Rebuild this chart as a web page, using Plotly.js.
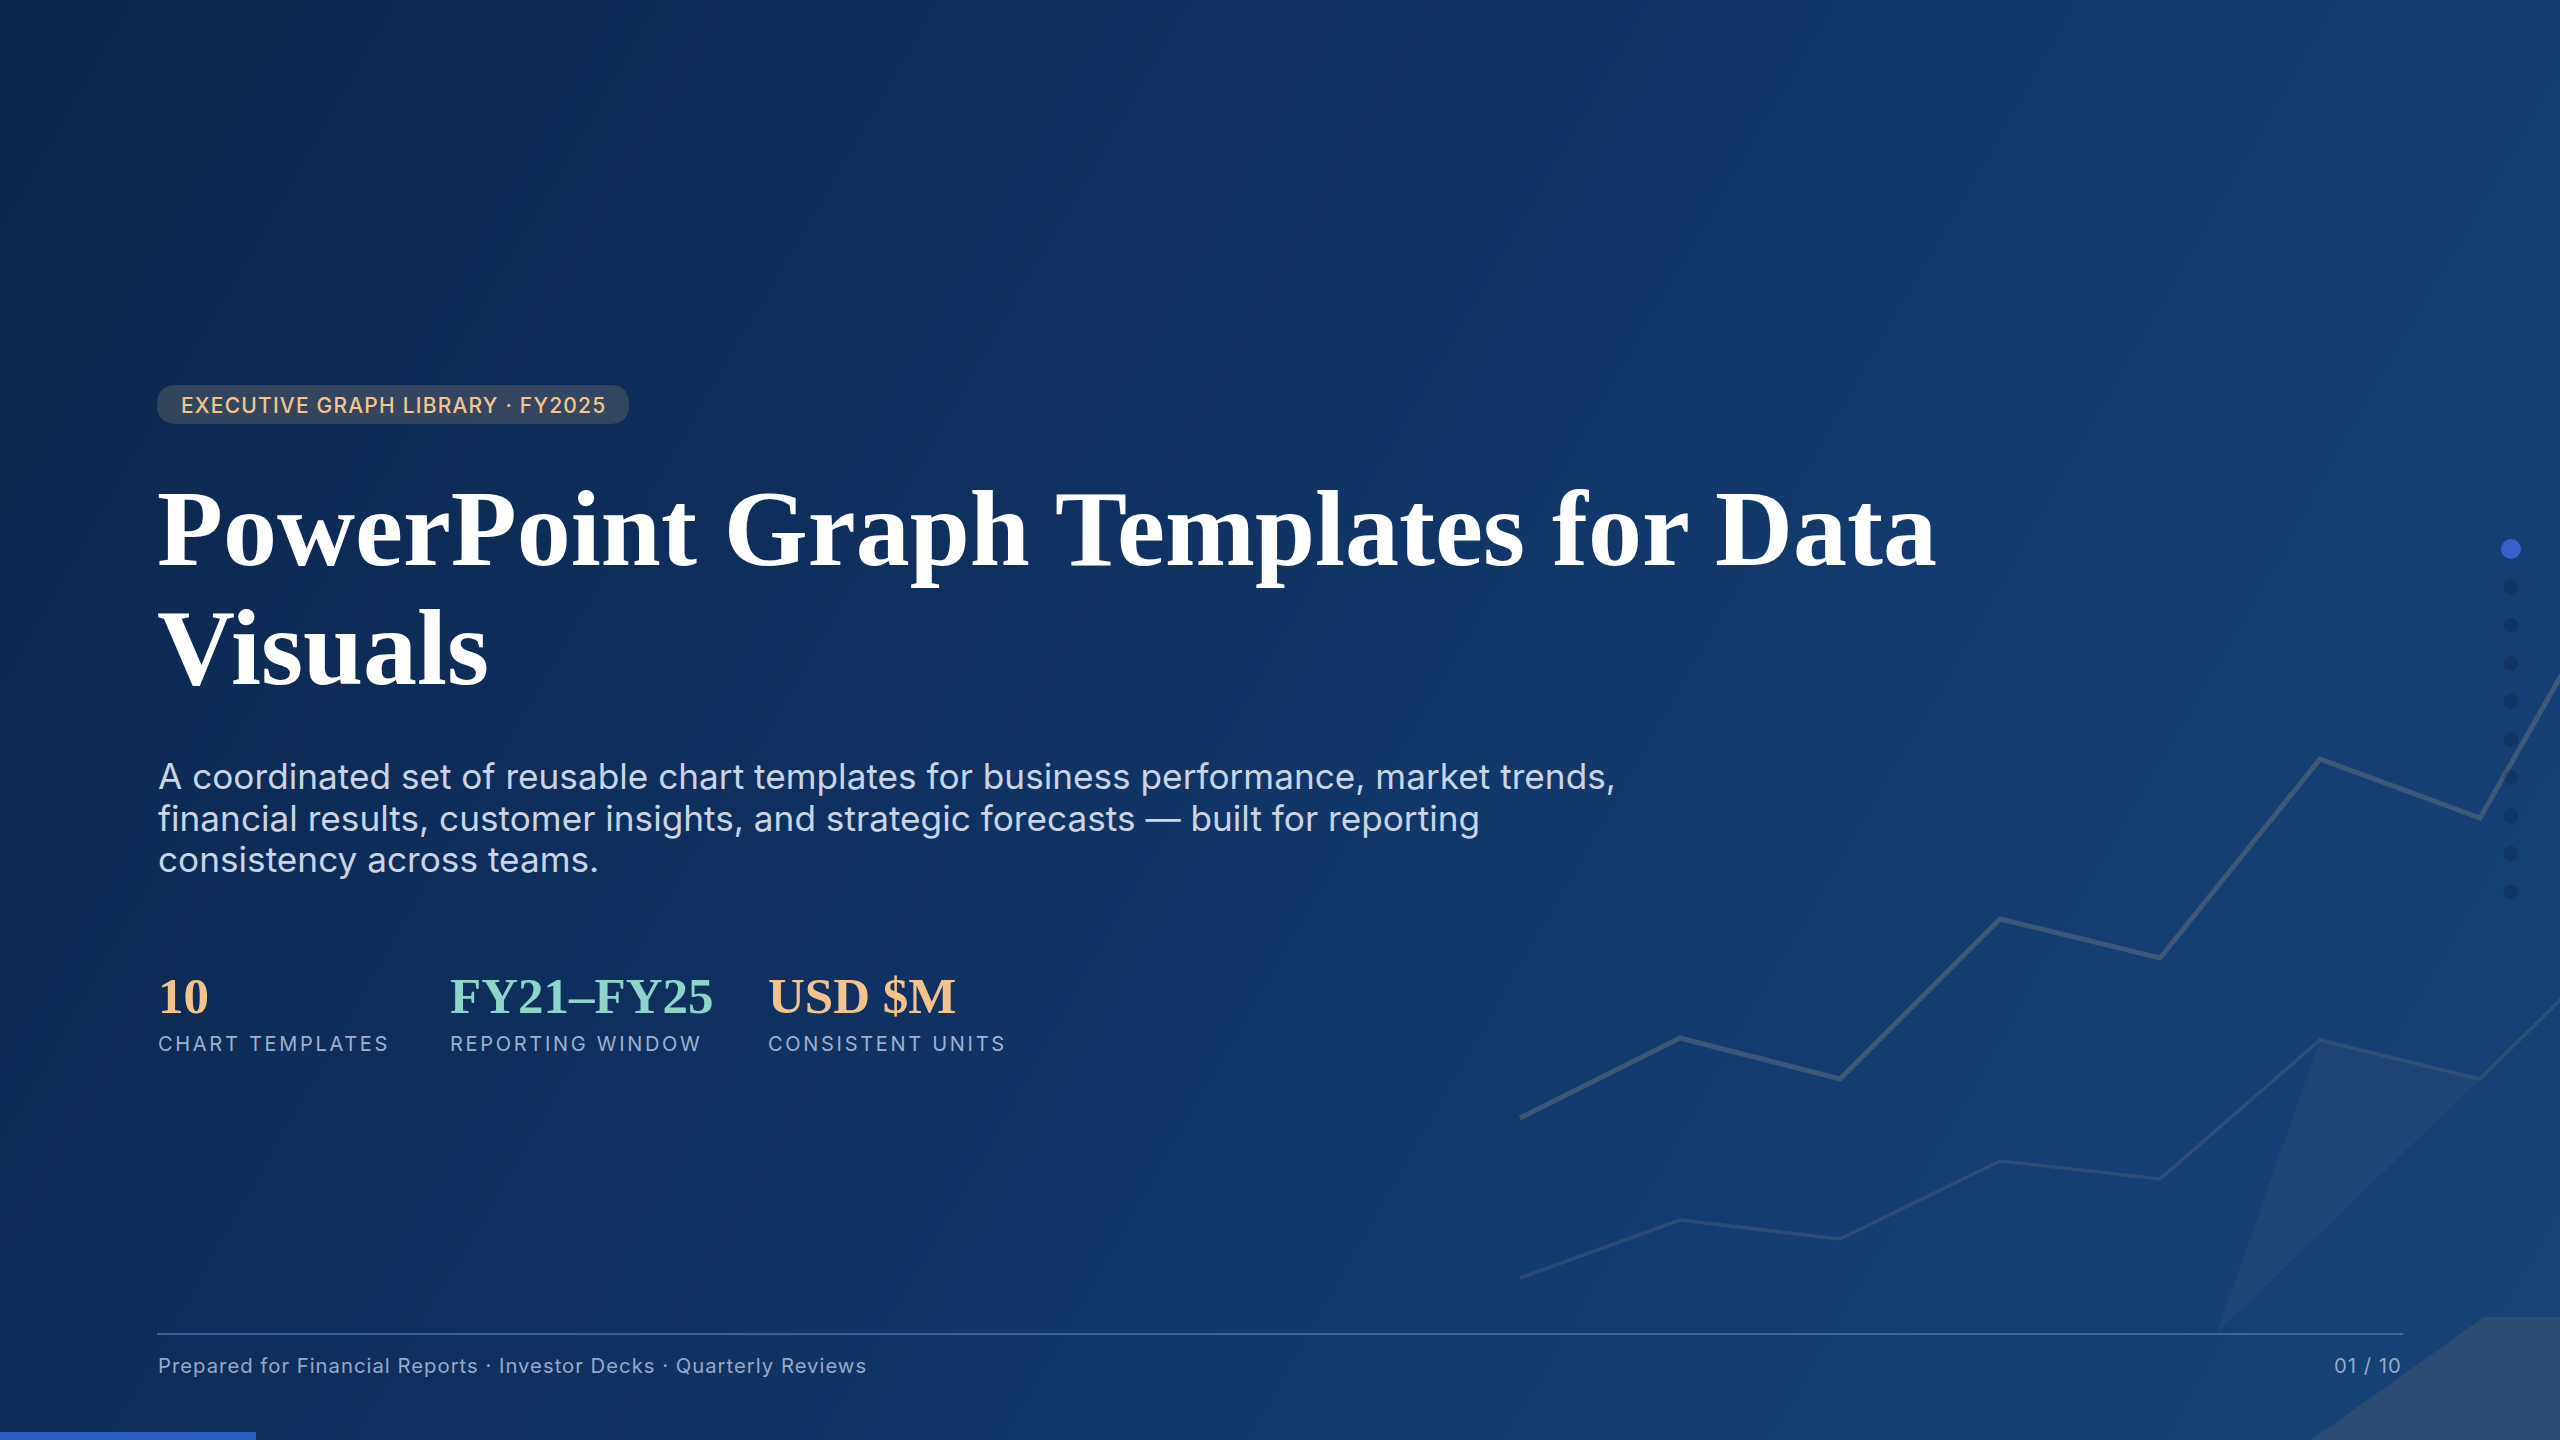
<!DOCTYPE html>
<html>
<head>
<meta charset="utf-8">
<script src="https://cdn.plot.ly/plotly-3.0.1.min.js"></script>
<style>
html,body{margin:0;padding:0;width:2560px;height:1440px;overflow:hidden;}
body{background:linear-gradient(120deg,#0a264b 0%,#0f2f5e 35%,#133a6e 65%,#174378 100%);}
#chart{width:2560px;height:1440px;}
</style>
</head>
<body>
<div id="chart"></div>
<script>
// ---- data ----
const periods = [0, 1, 2, 3, 4, 5, 6, 7];
const trendUpper = [322, 402, 361, 521, 482, 681, 622, 903];
const trendLower = [162, 220, 201, 279, 261, 400, 361, 519];

const badgeText = 'EXECUTIVE GRAPH LIBRARY · FY2025';
const titleLines = ['PowerPoint Graph Templates for Data', 'Visuals'];
const subtitleLines = [
  'A coordinated set of reusable chart templates for business performance, market trends,',
  'financial results, customer insights, and strategic forecasts — built for reporting',
  'consistency across teams.'
];
const statValues = ['10', 'FY21–FY25', 'USD $M'];
const statLabels = ['CHART TEMPLATES', 'REPORTING WINDOW', 'CONSISTENT UNITS'];
const statColors = ['#f2c48c', '#8ed4c9', '#f2c48c'];
const footerText = 'Prepared for Financial Reports · Investor Decks · Quarterly Reviews';
const pageText = '01 / 10';
const slideCount = 10;
const activeSlide = 0;

// ---- helpers ----
const W = 2560, H = 1440;
const X = p => p / W;
const Y = p => 1 - p / H;

function roundRect(x0, y0, x1, y1, r) {
  const P = (x, y) => X(x) + ',' + Y(y);
  return 'M' + P(x0 + r, y0) + ' L' + P(x1 - r, y0) + ' Q' + P(x1, y0) + ' ' + P(x1, y0 + r) +
    ' L' + P(x1, y1 - r) + ' Q' + P(x1, y1) + ' ' + P(x1 - r, y1) +
    ' L' + P(x0 + r, y1) + ' Q' + P(x0, y1) + ' ' + P(x0, y1 - r) +
    ' L' + P(x0, y0 + r) + ' Q' + P(x0, y0) + ' ' + P(x0 + r, y0) + ' Z';
}
function poly(pts) {
  return pts.map((p, i) => (i ? 'L' : 'M') + X(p[0]) + ',' + Y(p[1])).join(' ') + ' Z';
}
function ann(text, x, y, size, color, family, anchor, weight) {
  return {
    text: text, x: X(x), y: Y(y), xref: 'paper', yref: 'paper',
    xanchor: anchor || 'left', yanchor: 'middle', showarrow: false,
    align: anchor === 'right' ? 'right' : 'left', borderpad: 0,
    font: {family: family, size: size, color: color, weight: weight || 400}
  };
}
const sp = (t, ls) => '<span style="letter-spacing:' + ls + 'px">' + t + '</span>';

const SANS = 'Inter, "Noto Sans", sans-serif';
const SERIF = '"Liberation Serif", "DejaVu Serif", serif';

// ---- traces (decorative trend lines) ----
const traces = [
  {x: periods, y: trendUpper, type: 'scatter', mode: 'lines', hoverinfo: 'skip',
   line: {color: 'rgba(95,110,125,0.55)', width: 5}},
  {x: periods, y: trendLower, type: 'scatter', mode: 'lines', hoverinfo: 'skip',
   line: {color: 'rgba(85,100,120,0.40)', width: 3.5}}
];

// ---- shapes ----
const shapes = [];
shapes.push({type: 'path', xref: 'paper', yref: 'paper', layer: 'below',
  path: poly([[2320, 1040], [2480, 1079], [2217, 1333]]),
  fillcolor: 'rgba(90,100,115,0.15)', line: {width: 0}});
shapes.push({type: 'path', xref: 'paper', yref: 'paper', layer: 'below',
  path: poly([[2484, 1317], [2560, 1317], [2560, 1440], [2311, 1440]]),
  fillcolor: 'rgba(95,100,110,0.30)', line: {width: 0}});
shapes.push({type: 'path', xref: 'paper', yref: 'paper',
  path: roundRect(157, 385, 629, 424, 19.5),
  fillcolor: 'rgba(110,110,110,0.40)', line: {width: 0}});
shapes.push({type: 'line', xref: 'paper', yref: 'paper',
  x0: X(157), x1: X(2403), y0: Y(1334), y1: Y(1334),
  line: {color: 'rgba(95,135,200,0.55)', width: 2}});
shapes.push({type: 'rect', xref: 'paper', yref: 'paper',
  x0: 0, x1: X(256), y0: Y(1440), y1: Y(1432),
  fillcolor: '#2c5fc4', line: {width: 0}});
for (let i = 0; i < slideCount; i++) {
  const cy = 549 + i * 38.1;
  const r = i === activeSlide ? 10 : 7.5;
  shapes.push({type: 'circle', xref: 'paper', yref: 'paper',
    x0: X(2511 - r), x1: X(2511 + r), y0: Y(cy + r), y1: Y(cy - r),
    fillcolor: i === activeSlide ? '#3462c8' : 'rgba(10,22,45,0.22)', line: {width: 0}});
}

// ---- annotations ----
const annotations = [];
annotations.push(ann(sp(badgeText, 1.2), 180, 405, 21, '#f2c58f', SANS, 'left', 500));
annotations.push(ann(titleLines[0], 156, 528, 108, '#ffffff', SERIF, 'left', 700));
annotations.push(ann(titleLines[1], 156, 648, 108, '#ffffff', SERIF, 'left', 700));
subtitleLines.forEach((t, i) => {
  annotations.push(ann(t, 157, 776 + i * 41.5, 35.2, '#c9d4e6', SANS, 'left'));
});
const statX = [157, 449, 767];
statValues.forEach((t, i) => {
  annotations.push(ann(t, statX[i], 996, 51, statColors[i], SERIF, 'left', 700));
  annotations.push(ann(sp(statLabels[i], 2.7), statX[i], 1044, 20, '#9fb1cf', SANS, 'left'));
});
annotations.push(ann(sp(footerText, 1.0), 157, 1365, 20.3, '#97a9c8', SANS, 'left'));
annotations.push(ann(sp(pageText, 1.0), 2403, 1365, 20.3, '#97a9c8', SANS, 'right'));

const layout = {
  width: W, height: H,
  margin: {l: 0, r: 0, t: 0, b: 0, pad: 0},
  paper_bgcolor: 'rgba(0,0,0,0)', plot_bgcolor: 'rgba(0,0,0,0)',
  showlegend: false,
  xaxis: {range: [-9.5, 6.5], visible: false, fixedrange: true},
  yaxis: {range: [0, 1440], visible: false, fixedrange: true},
  shapes: shapes,
  annotations: annotations
};

Plotly.newPlot('chart', traces, layout, {staticPlot: true, displayModeBar: false});
</script>
</body>
</html>
